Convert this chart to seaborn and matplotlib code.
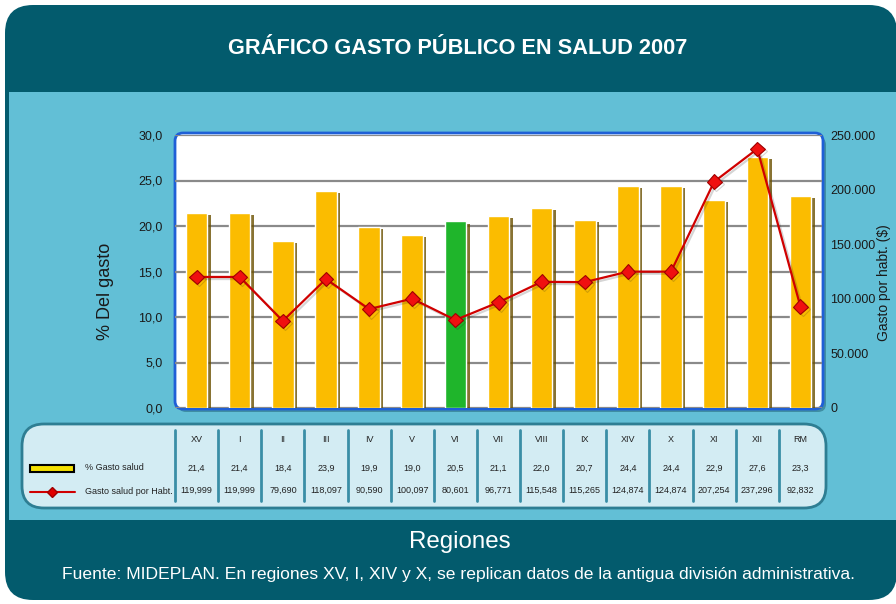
import matplotlib
matplotlib.use("Agg")
import matplotlib.pyplot as plt
import matplotlib.patheffects as pe
from matplotlib.patches import FancyBboxPatch, Rectangle
from matplotlib.lines import Line2D
from matplotlib import font_manager as fm
from matplotlib.transforms import blended_transform_factory
import seaborn as sns
import pandas as pd

# ---------------- data ----------------
regions = ["XV", "I", "II", "III", "IV", "V", "VI", "VII", "VIII", "IX",
           "XIV", "X", "XI", "XII", "RM"]
pct_gasto = [21.4, 21.4, 18.4, 23.9, 19.9, 19.0, 20.5, 21.1, 22.0, 20.7,
             24.4, 24.4, 22.9, 27.6, 23.3]
gasto_habt = [119999, 119999, 79690, 118097, 90590, 100097, 80601, 96771,
              115548, 115265, 124874, 124874, 207254, 237296, 92832]
highlight = "VI"
left_ticks = [0, 5, 10, 15, 20, 25, 30]
right_ticks = [0, 50000, 100000, 150000, 200000, 250000]
title = "GRÁFICO GASTO PÚBLICO EN SALUD 2007"
xlabel = "Regiones"
source = ("Fuente: MIDEPLAN. En regiones XV, I, XIV y X, se replican datos "
          "de la antigua división administrativa.")
series_names = ["% Gasto salud", "Gasto salud por Habt."]


def has_font(name):
    try:
        fm.findfont(fm.FontProperties(family=name), fallback_to_default=False)
        return True
    except Exception:
        return False


NARROW_OK = has_font("Liberation Sans Narrow")
NARROW = "Liberation Sans Narrow" if NARROW_OK else "Liberation Sans"

sns.set_theme(style="white")
plt.rcParams["font.family"] = ["Liberation Sans", "DejaVu Sans"]

W, H = 896, 604
fig = plt.figure(figsize=(W / 100, H / 100), dpi=100)
fig.patch.set_facecolor("white")


def fx(px):
    return px / W


def fy(py):
    return 1 - py / H


def rbox(x0, y0, x1, y1, r, fc, ec="none", lw=0, z=0):
    p = FancyBboxPatch((fx(x0), fy(y1)), fx(x1) - fx(x0), fy(y0) - fy(y1),
                       boxstyle=f"round,pad=0,rounding_size={r / W}",
                       mutation_aspect=W / H, transform=fig.transFigure,
                       fc=fc, ec=ec, lw=lw, zorder=z)
    fig.add_artist(p)
    return p


DARK = "#035b6d"
LIGHT = "#62bfd6"

# frame
rbox(5, 5, 897, 600, 28, DARK, z=-10)
fig.add_artist(Rectangle((fx(9), fy(520)), fx(897) - fx(9), fy(92) - fy(520),
                         transform=fig.transFigure, fc=LIGHT, ec="none", zorder=-9))
# plot area background
rbox(178, 137, 826, 412, 8, "#3f8ea3", z=-8)
rbox(175, 133, 823, 409, 8, "white", ec="#1f5fd6", lw=2, z=-7)

# ---------------- main axes ----------------
ax = fig.add_axes([fx(175), fy(408), fx(822) - fx(175), fy(135) - fy(408)])
ax.patch.set_alpha(0)
df = pd.DataFrame({"region": regions, "pct": pct_gasto, "habt": gasto_habt})
palette = {r: ("#1fb52b" if r == highlight else "#fbbc00") for r in regions}
sns.barplot(data=df, x="region", y="pct", hue="region", palette=palette,
            width=0.5, ax=ax, legend=False, saturation=1, zorder=3)
for p in ax.patches:
    p.set_path_effects([pe.SimplePatchShadow(offset=(2.5, -1.5),
                                             shadow_rgbFace="#6a5000", alpha=0.8),
                        pe.Normal()])
ax.set_ylim(0, 30)
ax.set_xlim(-0.5, len(regions) - 0.5)
ax.set_yticks(left_ticks)
ax.set_yticklabels([f"{v:.1f}".replace(".", ",") for v in left_ticks])
ax.yaxis.grid(True, color="#8a8a8a", lw=1.6)
ax.set_axisbelow(True)
ax.tick_params(axis="y", length=0, pad=9, labelsize=9, labelcolor="#1a1a1a")
for s in ax.spines.values():
    s.set_visible(False)

ax2 = ax.twinx()
sns.pointplot(data=df, x="region", y="habt", color="#d00000", markers="D",
              linestyles="-", errorbar=None, ax=ax2, markersize=7.5, linewidth=1.6)
for ln in ax2.lines:
    ln.set_markerfacecolor("#f01010")
    ln.set_markeredgecolor("#a00000")
    ln.set_markeredgewidth(0.8)
    ln.set_path_effects([pe.SimpleLineShadow(offset=(1.5, -1.5), alpha=0.18), pe.Normal()])
ax2.set_ylim(0, 250000)
ax2.set_yticks(right_ticks)
ax2.set_yticklabels([f"{v:,}".replace(",", ".") for v in right_ticks])
ax2.tick_params(axis="y", length=0, pad=6, labelsize=9, labelcolor="#1a1a1a")
ax2.set_ylabel("")
for s in ax2.spines.values():
    s.set_visible(False)
ax.set_xlim(-0.5, len(regions) - 0.5)
ax.set_xticks([])
ax.set_xlabel("")
ax2.set_xlabel("")
ax.set_ylabel("")

fig.text(fx(105), fy(291), "% Del gasto", rotation=90, ha="center", va="center",
         fontsize=13, color="#1a1a1a")
fig.text(fx(884), fy(283), "Gasto por habt. ($)", rotation=90, ha="center",
         va="center", fontsize=10, color="#1a1a1a")

# ---------------- data table ----------------
rbox(22, 424, 826, 508, 22, "#d3ecf3", ec="#2e7e93", lw=2, z=-6)
trans = blended_transform_factory(ax.transData, fig.transFigure)
for i in range(len(regions)):
    fig.add_artist(Line2D([i - 0.5, i - 0.5], [fy(430), fy(501)], transform=trans,
                          color="#3a8ea6", lw=2))
for i, r in enumerate(regions):
    ax.text(i, fy(440), r, transform=trans, ha="center", va="center",
            fontsize=6.5, color="#222222", clip_on=False)
    ax.text(i, fy(468), f"{pct_gasto[i]:.1f}".replace(".", ","), transform=trans,
            ha="center", va="center", fontsize=6.5, color="#222222", clip_on=False)
    ax.text(i, fy(490), f"{gasto_habt[i]:,}", transform=trans, ha="center",
            va="center", fontsize=6.5, color="#222222", clip_on=False)

fig.add_artist(Rectangle((fx(30), fy(472)), fx(74) - fx(30), 7 / H,
                         transform=fig.transFigure, fc="#f5e000", ec="black", lw=1.5))
fig.add_artist(Line2D([fx(30), fx(75)], [fy(492), fy(492)], transform=fig.transFigure,
                      color="#d00000", lw=1.5))
fig.add_artist(Line2D([fx(52)], [fy(492)], transform=fig.transFigure, marker="D",
                      color="#e00000", markersize=5.5, mec="#a00000", lw=0))
fig.text(fx(85), fy(468), series_names[0], fontsize=6.5, va="center", color="#222222")
fig.text(fx(85), fy(491), series_names[1], fontsize=6.5, va="center", color="#222222")

# ---------------- titles ----------------
fig.text(fx(458), fy(49), title, ha="center", va="center", color="white",
         fontsize=18 if NARROW_OK else 15.7, fontweight="bold",
         family=[NARROW, "DejaVu Sans"])
fig.text(fx(460), fy(542), xlabel, ha="center", va="center", color="white",
         fontsize=19 if NARROW_OK else 17.4,
         family=[NARROW, "DejaVu Sans"])
fig.text(fx(458), fy(574), source, ha="center", va="center", color="white",
         fontsize=14.5 if NARROW_OK else 12.6,
         family=[NARROW, "DejaVu Sans"])

fig.savefig("out.png", dpi=100, facecolor=fig.get_facecolor())
